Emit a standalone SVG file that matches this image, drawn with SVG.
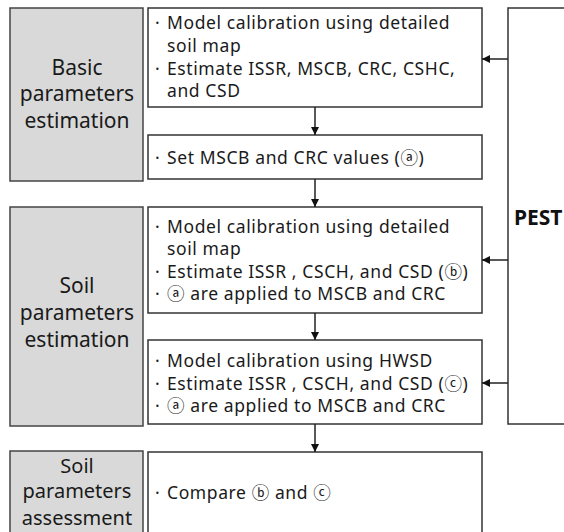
<svg xmlns="http://www.w3.org/2000/svg" width="564" height="532" viewBox="0 0 564 532">
<style>
.stage{fill:#d9d9d9;stroke:#444;stroke-width:1.5}
.box{fill:#fff;stroke:#333;stroke-width:1.5}
.lbl{font-family:"Noto Sans","Noto Sans CJK KR",sans-serif;font-size:21px;fill:#1a1a1a;text-anchor:middle}
.sm{font-size:20px}
.t{font-family:"Noto Sans","Noto Sans CJK KR",sans-serif;font-size:17.5px;letter-spacing:0.6px;fill:#1a1a1a}
.pest{font-family:"Noto Sans",sans-serif;font-size:21px;font-weight:bold;fill:#111}
.ln{stroke:#222;stroke-width:1.5;fill:none}
</style>
<defs>
<marker id="ah" viewBox="0 0 10 10" refX="10" refY="5" markerWidth="8" markerHeight="8" markerUnits="userSpaceOnUse" orient="auto">
<path d="M0,0 L10,5 L0,10 z" fill="#111"/>
</marker>
</defs>
<g id="stage-basic">
<rect class="stage" x="10" y="8" width="133" height="173"/>
<text class="lbl" x="77" y="75">Basic</text>
<text class="lbl" x="77" y="101">parameters</text>
<text class="lbl" x="77" y="128">estimation</text>
</g>
<g id="stage-soil">
<rect class="stage" x="10" y="207" width="133" height="219"/>
<text class="lbl" x="77" y="293">Soil</text>
<text class="lbl" x="77" y="320">parameters</text>
<text class="lbl" x="77" y="347">estimation</text>
</g>
<g id="stage-assess">
<rect class="stage" x="10" y="451" width="133" height="90"/>
<text class="lbl sm" x="77" y="473">Soil</text>
<text class="lbl sm" x="77" y="498">parameters</text>
<text class="lbl sm" x="77" y="525">assessment</text>
</g>
<g id="box-a">
<rect class="box" x="148" y="8" width="334" height="99"/>
<text class="t" y="29"><tspan x="155">·</tspan><tspan x="167">Model calibration using detailed</tspan></text>
<text class="t" x="167" y="52">soil map</text>
<text class="t" y="75"><tspan x="155">·</tspan><tspan x="167">Estimate ISSR, MSCB, CRC, CSHC,</tspan></text>
<text class="t" x="167" y="97">and CSD</text>
</g>
<g id="box-b">
<rect class="box" x="148" y="135" width="334" height="44"/>
<text class="t" y="164"><tspan x="155">·</tspan><tspan x="167">Set MSCB and CRC values (ⓐ)</tspan></text>
</g>
<g id="box-c">
<rect class="box" x="148" y="207" width="334" height="106"/>
<text class="t" y="233"><tspan x="155">·</tspan><tspan x="167">Model calibration using detailed</tspan></text>
<text class="t" x="167" y="255">soil map</text>
<text class="t" y="278"><tspan x="155">·</tspan><tspan x="167">Estimate ISSR , CSCH, and CSD (ⓑ)</tspan></text>
<text class="t" y="300"><tspan x="155">·</tspan><tspan x="167">ⓐ are applied to MSCB and CRC</tspan></text>
</g>
<g id="box-d">
<rect class="box" x="148" y="340" width="334" height="84"/>
<text class="t" y="367"><tspan x="155">·</tspan><tspan x="167">Model calibration using HWSD</tspan></text>
<text class="t" y="390"><tspan x="155">·</tspan><tspan x="167">Estimate ISSR , CSCH, and CSD (ⓒ)</tspan></text>
<text class="t" y="412"><tspan x="155">·</tspan><tspan x="167">ⓐ are applied to MSCB and CRC</tspan></text>
</g>
<g id="box-e">
<rect class="box" x="148" y="452" width="334" height="90"/>
<text class="t" y="499"><tspan x="155">·</tspan><tspan x="167">Compare ⓑ and ⓒ</tspan></text>
</g>
<g id="pest">
<rect class="box" x="508" y="8" width="80" height="416"/>
<text class="pest" x="514" y="225">PEST</text>
</g>
<g id="connectors">
<line class="ln" x1="315" y1="107" x2="315" y2="135" marker-end="url(#ah)"/>
<line class="ln" x1="315" y1="179" x2="315" y2="207" marker-end="url(#ah)"/>
<line class="ln" x1="315" y1="313" x2="315" y2="340" marker-end="url(#ah)"/>
<line class="ln" x1="315" y1="424" x2="315" y2="452" marker-end="url(#ah)"/>
<line class="ln" x1="508" y1="59" x2="482" y2="59" marker-end="url(#ah)"/>
<line class="ln" x1="508" y1="260" x2="482" y2="260" marker-end="url(#ah)"/>
<line class="ln" x1="508" y1="383" x2="482" y2="383" marker-end="url(#ah)"/>
</g>
</svg>
